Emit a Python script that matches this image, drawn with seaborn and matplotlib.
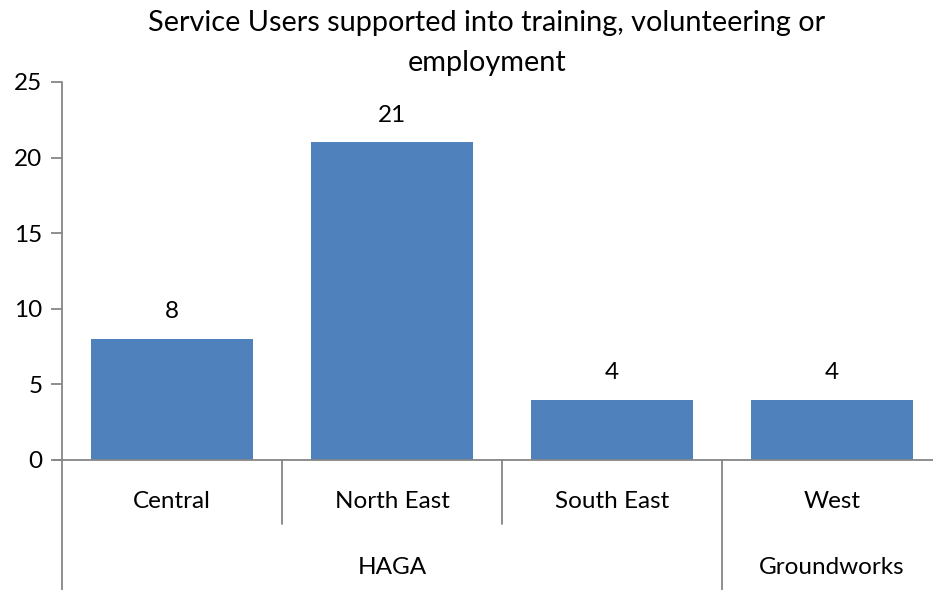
import matplotlib
matplotlib.use("Agg")
import matplotlib.pyplot as plt
import matplotlib.transforms as mtransforms
import seaborn as sns
import pandas as pd

categories = ["Central", "North East", "South East", "West"]
groups = ["HAGA", "HAGA", "HAGA", "Groundworks"]
values = [8, 21, 4, 4]
yticks = [0, 5, 10, 15, 20, 25]
title = "Service Users supported into training, volunteering or\nemployment"

sns.set_theme(style="white")
plt.rcParams["font.family"] = ["Lato", "DejaVu Sans"]

W, H = 933, 590
fig = plt.figure(figsize=(W / 100, H / 100), dpi=100)
L, R, T, B = 62, 942, 82, 460
ax = fig.add_axes([L / W, (H - B) / H, (R - L) / W, (B - T) / H])

df = pd.DataFrame({"cat": categories, "val": values})
sns.barplot(data=df, x="cat", y="val", color="#4F81BD", width=0.74,
            saturation=1, linewidth=0, ax=ax)
ax.set_xlim(-0.5, len(categories) - 0.5)
ax.set_ylim(0, 25)
ax.set_yticks(yticks)
ax.set_yticklabels([str(t) for t in yticks], fontsize=17.5, color="black")
ax.set_xticks([])
ax.set_xlabel("")
ax.set_ylabel("")
gray = "#868686"
for s in ["top", "right", "left", "bottom"]:
    ax.spines[s].set_visible(False)
ax.tick_params(axis="y", length=8, width=1.3, color=gray, direction="out", pad=6, left=True)

def fline(x0, y0, x1, y1):
    fig.add_artist(plt.Line2D([x0 / W, x1 / W], [1 - y0 / H, 1 - y1 / H],
                              color=gray, lw=1.3, transform=fig.transFigure,
                              clip_on=False))
fline(L, T, L, H)          # y axis extended to bottom
fline(L - 8, B, W, B)      # x axis
step = (R - L) / len(categories)
for i in range(1, len(categories)):
    x = L + step * i
    if groups[i] != groups[i - 1]:
        fline(x, B, x, H)
    else:
        fline(x, B, x, 524)

for i, v in enumerate(values):
    ax.annotate(str(v), (i, v), xytext=(0, 12), textcoords="offset points",
                ha="center", va="bottom", fontsize=17.5, color="black")

tr = mtransforms.blended_transform_factory(ax.transData, fig.transFigure)
for i, c in enumerate(categories):
    ax.text(i, 1 - 502 / H, c, transform=tr, ha="center", va="center",
            fontsize=17.5, color="black")
for g in dict.fromkeys(groups):
    idx = [i for i, gg in enumerate(groups) if gg == g]
    ax.text((idx[0] + idx[-1]) / 2, 1 - 567 / H, g, transform=tr,
            ha="center", va="center", fontsize=17.5, color="black")

fig.text(487 / W, 1 - 43 / H, title, ha="center", va="center", fontsize=20.8,
         color="black", linespacing=1.68)

fig.savefig("out.png", dpi=100)
